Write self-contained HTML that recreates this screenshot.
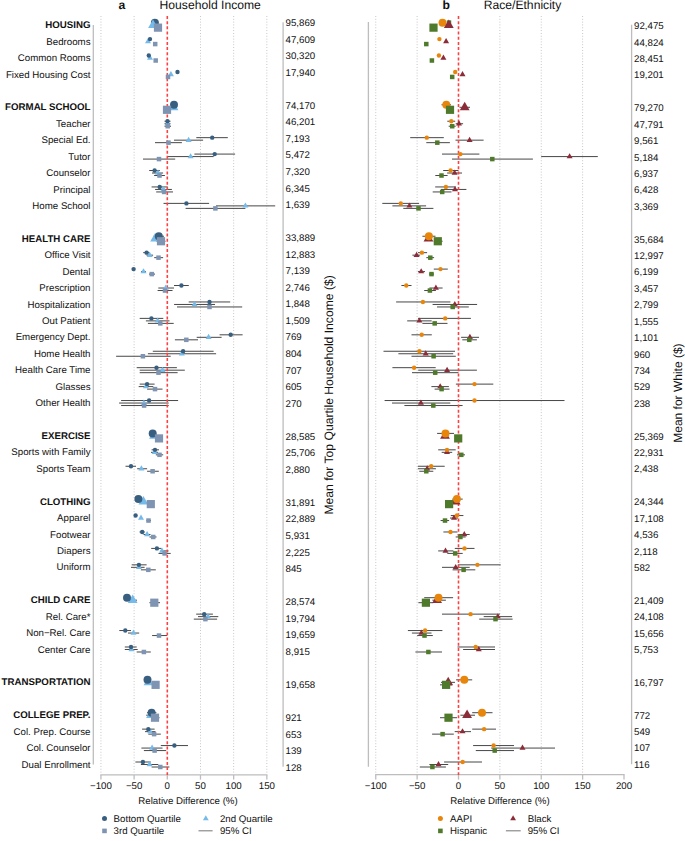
<!DOCTYPE html>
<html><head><meta charset="utf-8"><title>Figure</title>
<style>html,body{margin:0;padding:0;background:#fff;}body{width:685px;height:841px;overflow:hidden;font-family:"Liberation Sans",sans-serif;}svg{display:block;}</style>
</head><body>
<svg width="685" height="841" viewBox="0 0 685 841" text-rendering="geometricPrecision">
<rect width="685" height="841" fill="#fff"/>
<g stroke="#c0c0c0" stroke-width="1" stroke-dasharray="0.9 1.93"><line x1="100.94" y1="16" x2="100.94" y2="773.5"/><line x1="134.12" y1="16" x2="134.12" y2="773.5"/><line x1="200.48" y1="16" x2="200.48" y2="773.5"/><line x1="233.66" y1="16" x2="233.66" y2="773.5"/><line x1="266.84" y1="16" x2="266.84" y2="773.5"/><line x1="375.75" y1="16" x2="375.75" y2="773.5"/><line x1="417.12" y1="16" x2="417.12" y2="773.5"/><line x1="499.88" y1="16" x2="499.88" y2="773.5"/><line x1="541.25" y1="16" x2="541.25" y2="773.5"/><line x1="582.62" y1="16" x2="582.62" y2="773.5"/></g>
<g stroke="#bdbdbd" stroke-width="1.3" fill="none">
<line x1="93.3" y1="25" x2="93.3" y2="764.4"/>
<line x1="283.1" y1="22.3" x2="283.1" y2="766.7"/>
<line x1="368.4" y1="22.1" x2="368.4" y2="766.8"/>
<line x1="631.6" y1="24.8" x2="631.6" y2="764.3"/>
<line x1="100.29" y1="774.9" x2="267.49" y2="774.9"/>
<line x1="375.1" y1="774.7" x2="624.65" y2="774.7"/>
<line x1="100.94" y1="774.9" x2="100.94" y2="779.6"/>
<line x1="134.12" y1="774.9" x2="134.12" y2="779.6"/>
<line x1="167.3" y1="774.9" x2="167.3" y2="779.6"/>
<line x1="200.48" y1="774.9" x2="200.48" y2="779.6"/>
<line x1="233.66" y1="774.9" x2="233.66" y2="779.6"/>
<line x1="266.84" y1="774.9" x2="266.84" y2="779.6"/>
<line x1="375.75" y1="774.7" x2="375.75" y2="779.6"/>
<line x1="417.12" y1="774.7" x2="417.12" y2="779.6"/>
<line x1="458.5" y1="774.7" x2="458.5" y2="779.6"/>
<line x1="499.88" y1="774.7" x2="499.88" y2="779.6"/>
<line x1="541.25" y1="774.7" x2="541.25" y2="779.6"/>
<line x1="582.62" y1="774.7" x2="582.62" y2="779.6"/>
<line x1="624" y1="774.7" x2="624" y2="779.6"/>
</g>
<g stroke="#474747" stroke-width="1.0"><line x1="164.5" y1="121.23" x2="170.5" y2="121.23"/><line x1="164.5" y1="123.73" x2="170.5" y2="123.73"/><line x1="164.5" y1="126.23" x2="171" y2="126.23"/><line x1="196.3" y1="137.66" x2="227.8" y2="137.66"/><line x1="174" y1="140.16" x2="203.1" y2="140.16"/><line x1="155" y1="142.66" x2="181.9" y2="142.66"/><line x1="194.4" y1="154.09" x2="235.1" y2="154.09"/><line x1="167.6" y1="156.59" x2="213.7" y2="156.59"/><line x1="143" y1="159.09" x2="175.2" y2="159.09"/><line x1="149.2" y1="170.52" x2="159.8" y2="170.52"/><line x1="152" y1="173.02" x2="163.1" y2="173.02"/><line x1="154.1" y1="175.52" x2="164.9" y2="175.52"/><line x1="151.6" y1="186.95" x2="167.8" y2="186.95"/><line x1="155.1" y1="189.45" x2="171.9" y2="189.45"/><line x1="156.2" y1="191.95" x2="173" y2="191.95"/><line x1="163.5" y1="203.38" x2="209.1" y2="203.38"/><line x1="216" y1="205.88" x2="275.2" y2="205.88"/><line x1="185.6" y1="208.38" x2="245.4" y2="208.38"/><line x1="153.5" y1="236.24" x2="164" y2="236.24"/><line x1="152" y1="238.74" x2="158" y2="238.74"/><line x1="156.5" y1="241.24" x2="165.5" y2="241.24"/><line x1="143.2" y1="252.67" x2="149.5" y2="252.67"/><line x1="146.5" y1="255.17" x2="153.1" y2="255.17"/><line x1="154.2" y1="257.67" x2="163.1" y2="257.67"/><line x1="141" y1="271.6" x2="146" y2="271.6"/><line x1="149" y1="274.1" x2="155" y2="274.1"/><line x1="174" y1="285.53" x2="188.8" y2="285.53"/><line x1="158.3" y1="288.03" x2="174" y2="288.03"/><line x1="157.6" y1="290.53" x2="172.5" y2="290.53"/><line x1="188.7" y1="301.96" x2="230.2" y2="301.96"/><line x1="174.1" y1="304.46" x2="215" y2="304.46"/><line x1="177" y1="306.96" x2="242.2" y2="306.96"/><line x1="139.7" y1="318.39" x2="163.3" y2="318.39"/><line x1="145.9" y1="320.89" x2="169.5" y2="320.89"/><line x1="147.9" y1="323.39" x2="173.7" y2="323.39"/><line x1="219.6" y1="334.82" x2="242.6" y2="334.82"/><line x1="196.7" y1="337.32" x2="221.6" y2="337.32"/><line x1="174.9" y1="339.82" x2="198" y2="339.82"/><line x1="152.8" y1="351.25" x2="213.6" y2="351.25"/><line x1="147.9" y1="353.75" x2="216.1" y2="353.75"/><line x1="116.1" y1="356.25" x2="170.7" y2="356.25"/><line x1="136.7" y1="367.68" x2="176.9" y2="367.68"/><line x1="139.7" y1="370.18" x2="184.8" y2="370.18"/><line x1="139.7" y1="372.68" x2="177.6" y2="372.68"/><line x1="139.7" y1="384.11" x2="154.6" y2="384.11"/><line x1="138.7" y1="386.61" x2="153.3" y2="386.61"/><line x1="147.1" y1="389.11" x2="162.5" y2="389.11"/><line x1="121.1" y1="400.54" x2="178.1" y2="400.54"/><line x1="119.1" y1="403.04" x2="168.7" y2="403.04"/><line x1="121.1" y1="405.54" x2="168.7" y2="405.54"/><line x1="151.6" y1="449.83" x2="159" y2="449.83"/><line x1="151" y1="452.33" x2="158" y2="452.33"/><line x1="155.8" y1="454.83" x2="163.2" y2="454.83"/><line x1="125.5" y1="466.26" x2="136" y2="466.26"/><line x1="137.2" y1="468.76" x2="147.1" y2="468.76"/><line x1="147.1" y1="471.26" x2="158.8" y2="471.26"/><line x1="146.5" y1="520.55" x2="151" y2="520.55"/><line x1="139.5" y1="531.98" x2="144.8" y2="531.98"/><line x1="143.5" y1="534.48" x2="150.5" y2="534.48"/><line x1="149.5" y1="536.98" x2="156.5" y2="536.98"/><line x1="151.2" y1="548.41" x2="161.5" y2="548.41"/><line x1="160.5" y1="550.91" x2="168.5" y2="550.91"/><line x1="158.5" y1="553.41" x2="170.7" y2="553.41"/><line x1="131.7" y1="564.84" x2="146.6" y2="564.84"/><line x1="131" y1="567.34" x2="144.6" y2="567.34"/><line x1="140.9" y1="569.84" x2="155.8" y2="569.84"/><line x1="129" y1="600.2" x2="137" y2="600.2"/><line x1="149.4" y1="602.7" x2="160" y2="602.7"/><line x1="196.2" y1="614.13" x2="212.9" y2="614.13"/><line x1="198" y1="616.63" x2="218.3" y2="616.63"/><line x1="193.8" y1="619.13" x2="217.1" y2="619.13"/><line x1="119.3" y1="630.56" x2="131" y2="630.56"/><line x1="128" y1="633.06" x2="139.2" y2="633.06"/><line x1="152.1" y1="635.56" x2="167" y2="635.56"/><line x1="124.8" y1="646.99" x2="136.7" y2="646.99"/><line x1="124.8" y1="649.49" x2="137.7" y2="649.49"/><line x1="136.7" y1="651.99" x2="150.8" y2="651.99"/><line x1="147" y1="712.71" x2="156.4" y2="712.71"/><line x1="146.2" y1="715.21" x2="155.5" y2="715.21"/><line x1="152" y1="717.71" x2="159.5" y2="717.71"/><line x1="142.1" y1="729.14" x2="154.6" y2="729.14"/><line x1="145" y1="731.64" x2="155.5" y2="731.64"/><line x1="148.3" y1="734.14" x2="160.8" y2="734.14"/><line x1="160.8" y1="745.57" x2="188" y2="745.57"/><line x1="141.4" y1="748.07" x2="162.5" y2="748.07"/><line x1="143.9" y1="750.57" x2="166.2" y2="750.57"/><line x1="135.4" y1="762" x2="150.8" y2="762"/><line x1="140.9" y1="764.5" x2="158.3" y2="764.5"/><line x1="151.6" y1="767" x2="169.4" y2="767"/></g>
<g stroke="#474747" stroke-width="1.0"><line x1="441.5" y1="104.8" x2="451" y2="104.8"/><line x1="459.5" y1="107.3" x2="470" y2="107.3"/><line x1="447.3" y1="121.23" x2="455.2" y2="121.23"/><line x1="455.7" y1="123.73" x2="463.1" y2="123.73"/><line x1="448.7" y1="126.23" x2="455.7" y2="126.23"/><line x1="410.2" y1="137.66" x2="443.8" y2="137.66"/><line x1="455.5" y1="140.16" x2="483.6" y2="140.16"/><line x1="426.3" y1="142.66" x2="449.9" y2="142.66"/><line x1="442" y1="154.09" x2="479.4" y2="154.09"/><line x1="541.2" y1="156.59" x2="597.8" y2="156.59"/><line x1="452" y1="159.09" x2="532.9" y2="159.09"/><line x1="443.2" y1="170.52" x2="458.5" y2="170.52"/><line x1="447.1" y1="173.02" x2="462" y2="173.02"/><line x1="435.3" y1="175.52" x2="447.6" y2="175.52"/><line x1="435.2" y1="186.95" x2="455.8" y2="186.95"/><line x1="441" y1="189.45" x2="466.4" y2="189.45"/><line x1="432.7" y1="191.95" x2="451.5" y2="191.95"/><line x1="382.3" y1="203.38" x2="419.1" y2="203.38"/><line x1="392.4" y1="205.88" x2="426.1" y2="205.88"/><line x1="403.3" y1="208.38" x2="433.4" y2="208.38"/><line x1="422.4" y1="236.24" x2="435.5" y2="236.24"/><line x1="433.8" y1="241.24" x2="442.6" y2="241.24"/><line x1="418" y1="252.67" x2="427.1" y2="252.67"/><line x1="412.4" y1="255.17" x2="420.1" y2="255.17"/><line x1="426.3" y1="257.67" x2="434.1" y2="257.67"/><line x1="433.8" y1="269.1" x2="447.8" y2="269.1"/><line x1="418" y1="271.6" x2="425" y2="271.6"/><line x1="429" y1="274.1" x2="434" y2="274.1"/><line x1="401.4" y1="285.53" x2="411.5" y2="285.53"/><line x1="429.4" y1="288.03" x2="442.6" y2="288.03"/><line x1="424.2" y1="290.53" x2="435.9" y2="290.53"/><line x1="396.1" y1="301.96" x2="450.4" y2="301.96"/><line x1="432.6" y1="304.46" x2="477.1" y2="304.46"/><line x1="437" y1="306.96" x2="468.8" y2="306.96"/><line x1="418" y1="318.39" x2="470.9" y2="318.39"/><line x1="407.2" y1="320.89" x2="431.7" y2="320.89"/><line x1="422.4" y1="323.39" x2="447.5" y2="323.39"/><line x1="411.5" y1="334.82" x2="431.8" y2="334.82"/><line x1="461.1" y1="337.32" x2="479" y2="337.32"/><line x1="462.3" y1="339.82" x2="476.9" y2="339.82"/><line x1="383.5" y1="351.25" x2="455" y2="351.25"/><line x1="398.4" y1="353.75" x2="453.2" y2="353.75"/><line x1="411.5" y1="356.25" x2="455.8" y2="356.25"/><line x1="392.4" y1="367.68" x2="435.7" y2="367.68"/><line x1="418.2" y1="370.18" x2="476.9" y2="370.18"/><line x1="412" y1="372.68" x2="458.5" y2="372.68"/><line x1="455.9" y1="384.11" x2="493.3" y2="384.11"/><line x1="431.4" y1="386.61" x2="448.9" y2="386.61"/><line x1="434.6" y1="389.11" x2="449.5" y2="389.11"/><line x1="384.6" y1="400.54" x2="564.5" y2="400.54"/><line x1="392" y1="403.04" x2="450.3" y2="403.04"/><line x1="404.4" y1="405.54" x2="462.6" y2="405.54"/><line x1="437.1" y1="433.4" x2="454" y2="433.4"/><line x1="438.2" y1="449.83" x2="455.7" y2="449.83"/><line x1="441.7" y1="452.33" x2="452.2" y2="452.33"/><line x1="457" y1="454.83" x2="465" y2="454.83"/><line x1="417.9" y1="466.26" x2="444.7" y2="466.26"/><line x1="417.9" y1="468.76" x2="435.9" y2="468.76"/><line x1="419.3" y1="471.26" x2="433.3" y2="471.26"/><line x1="452.2" y1="499.12" x2="462.7" y2="499.12"/><line x1="450.8" y1="515.55" x2="463.4" y2="515.55"/><line x1="450" y1="518.05" x2="458" y2="518.05"/><line x1="440.6" y1="520.55" x2="449.1" y2="520.55"/><line x1="443.4" y1="531.98" x2="457.5" y2="531.98"/><line x1="457.8" y1="534.48" x2="469.7" y2="534.48"/><line x1="455.7" y1="536.98" x2="465.7" y2="536.98"/><line x1="454.8" y1="548.41" x2="474.5" y2="548.41"/><line x1="438.2" y1="550.91" x2="453.4" y2="550.91"/><line x1="447.3" y1="553.41" x2="462.7" y2="553.41"/><line x1="457.8" y1="564.84" x2="500.7" y2="564.84"/><line x1="442" y1="567.34" x2="469.7" y2="567.34"/><line x1="452.6" y1="569.84" x2="475.3" y2="569.84"/><line x1="424.2" y1="597.7" x2="453.1" y2="597.7"/><line x1="432.4" y1="600.2" x2="445.9" y2="600.2"/><line x1="418.4" y1="602.7" x2="433.3" y2="602.7"/><line x1="442" y1="614.13" x2="499.9" y2="614.13"/><line x1="483.7" y1="616.63" x2="512.1" y2="616.63"/><line x1="479.2" y1="619.13" x2="512.6" y2="619.13"/><line x1="407.9" y1="630.56" x2="442.4" y2="630.56"/><line x1="411.9" y1="633.06" x2="431.5" y2="633.06"/><line x1="417.2" y1="635.56" x2="432.8" y2="635.56"/><line x1="457.5" y1="646.99" x2="495" y2="646.99"/><line x1="463.1" y1="649.49" x2="495" y2="649.49"/><line x1="415.4" y1="651.99" x2="442" y2="651.99"/><line x1="456.1" y1="679.85" x2="472.2" y2="679.85"/><line x1="441" y1="682.35" x2="455" y2="682.35"/><line x1="440" y1="684.85" x2="452" y2="684.85"/><line x1="472.2" y1="712.71" x2="492.5" y2="712.71"/><line x1="460.4" y1="715.21" x2="475" y2="715.21"/><line x1="440" y1="717.71" x2="457" y2="717.71"/><line x1="472.2" y1="729.14" x2="496" y2="729.14"/><line x1="454.7" y1="731.64" x2="471" y2="731.64"/><line x1="432.1" y1="734.14" x2="453.8" y2="734.14"/><line x1="473.1" y1="745.57" x2="514" y2="745.57"/><line x1="491.2" y1="748.07" x2="555" y2="748.07"/><line x1="475.8" y1="750.57" x2="514" y2="750.57"/><line x1="444.1" y1="762" x2="482" y2="762"/><line x1="429.4" y1="764.5" x2="448.2" y2="764.5"/><line x1="419.8" y1="767" x2="445.9" y2="767"/></g>
<g stroke="#ff4040" stroke-width="1.6" stroke-dasharray="3.0 2.18"><line x1="167.3" y1="16" x2="167.3" y2="775"/><line x1="458.5" y1="16" x2="458.5" y2="775"/></g>
<g fill="#395f80"><circle cx="154.9" cy="22.65" r="4"/></g>

<g fill="#76bae9"><polygon points="153,19.49 148.1,27.98 157.9,27.98"/></g>
<g fill="#7e94b2"><rect x="153.9" y="23.55" width="8.2" height="8.2"/></g>
<g fill="#76bae9"><polygon points="148,38.12 145,43.31 151,43.31"/><polygon points="150,54.55 147,59.74 153,59.74"/><polygon points="170.9,70.98 167.9,76.17 173.9,76.17"/><polygon points="173.5,101.64 168.6,110.13 178.4,110.13"/><polygon points="167.6,120.27 164.6,125.46 170.6,125.46"/><polygon points="188.6,136.7 185.6,141.89 191.6,141.89"/><polygon points="190.6,153.13 187.6,158.32 193.6,158.32"/><polygon points="158,169.56 155,174.75 161,174.75"/><polygon points="163.4,185.99 160.4,191.18 166.4,191.18"/><polygon points="245.4,202.42 242.4,207.61 248.4,207.61"/><polygon points="155.1,233.08 150.2,241.57 160,241.57"/><polygon points="149.7,251.71 146.7,256.9 152.7,256.9"/><polygon points="143.5,268.14 140.5,273.33 146.5,273.33"/><polygon points="165.8,284.57 162.8,289.76 168.8,289.76"/><polygon points="194.5,301 191.5,306.19 197.5,306.19"/><polygon points="157.6,317.43 154.6,322.62 160.6,322.62"/><polygon points="208.6,333.86 205.6,339.05 211.6,339.05"/><polygon points="181.8,350.29 178.8,355.48 184.8,355.48"/><polygon points="162.5,366.72 159.5,371.91 165.5,371.91"/><polygon points="145.9,383.15 142.9,388.34 148.9,388.34"/><polygon points="143.9,399.58 140.9,404.77 146.9,404.77"/><polygon points="154,430.24 149.1,438.73 158.9,438.73"/><polygon points="154.6,448.87 151.6,454.06 157.6,454.06"/><polygon points="141.4,465.3 138.4,470.49 144.4,470.49"/><polygon points="143.4,495.96 138.5,504.45 148.3,504.45"/><polygon points="141,514.59 138,519.78 144,519.78"/><polygon points="147.1,531.02 144.1,536.21 150.1,536.21"/><polygon points="162,547.45 159,552.64 165,552.64"/><polygon points="138.9,563.88 135.9,569.07 141.9,569.07"/><polygon points="132.7,594.54 127.8,603.03 137.6,603.03"/><polygon points="207.9,613.17 204.9,618.36 210.9,618.36"/><polygon points="133.5,629.6 130.5,634.79 136.5,634.79"/><polygon points="131.5,646.03 128.5,651.22 134.5,651.22"/><polygon points="148.5,676.69 143.6,685.18 153.4,685.18"/><polygon points="151,709.55 146.1,718.04 155.9,718.04"/><polygon points="150.1,728.18 147.1,733.37 153.1,733.37"/><polygon points="152.1,744.61 149.1,749.8 155.1,749.8"/><polygon points="149.6,761.04 146.6,766.23 152.6,766.23"/></g>
<g fill="#395f80"><circle cx="150" cy="39.08" r="2.2"/><circle cx="148.8" cy="55.51" r="2.2"/><circle cx="177.5" cy="71.94" r="2.2"/><circle cx="174" cy="104.8" r="4"/><circle cx="167.5" cy="121.23" r="2.2"/><circle cx="212.2" cy="137.66" r="2.2"/><circle cx="214.7" cy="154.09" r="2.2"/><circle cx="154.6" cy="170.52" r="2.2"/><circle cx="159.7" cy="186.95" r="2.2"/><circle cx="186.4" cy="203.38" r="2.2"/><circle cx="158.8" cy="236.24" r="4"/><circle cx="146.6" cy="252.67" r="2.2"/><circle cx="133.6" cy="269.1" r="2.2"/><circle cx="181.4" cy="285.53" r="2.2"/><circle cx="209.5" cy="301.96" r="2.2"/><circle cx="151.4" cy="318.39" r="2.2"/><circle cx="230.7" cy="334.82" r="2.2"/><circle cx="183.1" cy="351.25" r="2.2"/><circle cx="156.5" cy="367.68" r="2.2"/><circle cx="147.1" cy="384.11" r="2.2"/><circle cx="149.1" cy="400.54" r="2.2"/><circle cx="152.7" cy="433.4" r="4"/><circle cx="155" cy="449.83" r="2.2"/><circle cx="131" cy="466.26" r="2.2"/><circle cx="138.4" cy="499.12" r="4"/><circle cx="135.6" cy="515.55" r="2.2"/><circle cx="142.2" cy="531.98" r="2.2"/><circle cx="156.9" cy="548.41" r="2.2"/><circle cx="138.9" cy="564.84" r="2.2"/><circle cx="127" cy="597.7" r="4"/><circle cx="204.2" cy="614.13" r="2.2"/><circle cx="125.3" cy="630.56" r="2.2"/><circle cx="131" cy="646.99" r="2.2"/><circle cx="147.5" cy="679.85" r="4"/><circle cx="151.6" cy="712.71" r="4"/><circle cx="148.3" cy="729.14" r="2.2"/><circle cx="174.4" cy="745.57" r="2.2"/><circle cx="142.9" cy="762" r="2.2"/></g>
<g fill="#7e94b2"><rect x="152.95" y="41.83" width="4.5" height="4.5"/><rect x="153.45" y="58.26" width="4.5" height="4.5"/><rect x="165.75" y="74.69" width="4.5" height="4.5"/><rect x="162.9" y="105.7" width="8.2" height="8.2"/><rect x="165.45" y="123.98" width="4.5" height="4.5"/><rect x="166.25" y="140.41" width="4.5" height="4.5"/><rect x="156.75" y="156.84" width="4.5" height="4.5"/><rect x="157.25" y="173.27" width="4.5" height="4.5"/><rect x="161.85" y="189.7" width="4.5" height="4.5"/><rect x="213.15" y="206.13" width="4.5" height="4.5"/><rect x="156.9" y="237.14" width="8.2" height="8.2"/><rect x="156.25" y="255.42" width="4.5" height="4.5"/><rect x="149.55" y="271.85" width="4.5" height="4.5"/><rect x="162.75" y="288.28" width="4.5" height="4.5"/><rect x="207.25" y="304.71" width="4.5" height="4.5"/><rect x="158.05" y="321.14" width="4.5" height="4.5"/><rect x="184.05" y="337.57" width="4.5" height="4.5"/><rect x="140.65" y="354" width="4.5" height="4.5"/><rect x="156.25" y="370.43" width="4.5" height="4.5"/><rect x="152.75" y="386.86" width="4.5" height="4.5"/><rect x="141.85" y="403.29" width="4.5" height="4.5"/><rect x="154.9" y="434.3" width="8.2" height="8.2"/><rect x="157.25" y="452.58" width="4.5" height="4.5"/><rect x="150.35" y="469.01" width="4.5" height="4.5"/><rect x="146.7" y="500.02" width="8.2" height="8.2"/><rect x="146.25" y="518.3" width="4.5" height="4.5"/><rect x="150.95" y="534.73" width="4.5" height="4.5"/><rect x="162.35" y="551.16" width="4.5" height="4.5"/><rect x="146.05" y="567.59" width="4.5" height="4.5"/><rect x="150.2" y="598.6" width="8.2" height="8.2"/><rect x="203.15" y="616.88" width="4.5" height="4.5"/><rect x="156.75" y="633.31" width="4.5" height="4.5"/><rect x="141.65" y="649.74" width="4.5" height="4.5"/><rect x="151.5" y="680.75" width="8.2" height="8.2"/><rect x="150.9" y="713.61" width="8.2" height="8.2"/><rect x="151.85" y="731.89" width="4.5" height="4.5"/><rect x="152.35" y="748.32" width="4.5" height="4.5"/><rect x="158.05" y="764.75" width="4.5" height="4.5"/></g>
<g fill="#e8860b"><circle cx="442.5" cy="22.65" r="4"/></g>
<rect x="446.8" y="20.35" width="4.4" height="4.4" fill="#4f7a2b"/>
<g fill="#8b2c39"><polygon points="448.8,19.49 443.9,27.98 453.7,27.98"/></g>
<g fill="#4f7a2b"><rect x="429.4" y="23.55" width="8.2" height="8.2"/></g>
<g fill="#8b2c39"><polygon points="446.1,38.12 443.1,43.31 449.1,43.31"/><polygon points="443.4,54.55 440.4,59.74 446.4,59.74"/><polygon points="462.5,70.98 459.5,76.17 465.5,76.17"/><polygon points="464.7,101.64 459.8,110.13 469.6,110.13"/><polygon points="459,120.27 456,125.46 462,125.46"/><polygon points="469.6,136.7 466.6,141.89 472.6,141.89"/><polygon points="569.6,153.13 566.6,158.32 572.6,158.32"/><polygon points="454.6,169.56 451.6,174.75 457.6,174.75"/><polygon points="455,185.99 452,191.18 458,191.18"/><polygon points="409.4,202.42 406.4,207.61 412.4,207.61"/><polygon points="428.5,233.08 423.6,241.57 433.4,241.57"/><polygon points="416.6,251.71 413.6,256.9 419.6,256.9"/><polygon points="421.2,268.14 418.2,273.33 424.2,273.33"/><polygon points="435.9,284.57 432.9,289.76 438.9,289.76"/><polygon points="454.8,301 451.8,306.19 457.8,306.19"/><polygon points="419.4,317.43 416.4,322.62 422.4,322.62"/><polygon points="469.9,333.86 466.9,339.05 472.9,339.05"/><polygon points="425.7,350.29 422.7,355.48 428.7,355.48"/><polygon points="447.1,366.72 444.1,371.91 450.1,371.91"/><polygon points="440.2,383.15 437.2,388.34 443.2,388.34"/><polygon points="420.9,399.58 417.9,404.77 423.9,404.77"/><polygon points="445,430.24 440.1,438.73 449.9,438.73"/><polygon points="447,448.87 444,454.06 450,454.06"/><polygon points="427.2,465.3 424.2,470.49 430.2,470.49"/><polygon points="455.7,495.96 450.8,504.45 460.6,504.45"/><polygon points="454,514.59 451,519.78 457,519.78"/><polygon points="464.3,531.02 461.3,536.21 467.3,536.21"/><polygon points="445.5,547.45 442.5,552.64 448.5,552.64"/><polygon points="455.7,563.88 452.7,569.07 458.7,569.07"/><polygon points="437.1,594.54 432.2,603.03 442,603.03"/><polygon points="497.8,613.17 494.8,618.36 500.8,618.36"/><polygon points="421.4,629.6 418.4,634.79 424.4,634.79"/><polygon points="478.8,646.03 475.8,651.22 481.8,651.22"/><polygon points="448.2,676.69 443.3,685.18 453.1,685.18"/><polygon points="467.1,709.55 462.2,718.04 472,718.04"/><polygon points="462.5,728.18 459.5,733.37 465.5,733.37"/><polygon points="522.5,744.61 519.5,749.8 525.5,749.8"/><polygon points="438.5,761.04 435.5,766.23 441.5,766.23"/></g>
<g fill="#e8860b"><circle cx="439.4" cy="39.08" r="2.2"/><circle cx="438.9" cy="55.51" r="2.2"/><circle cx="455.2" cy="71.94" r="2.2"/><circle cx="446.3" cy="104.8" r="4"/><circle cx="451.3" cy="121.23" r="2.2"/><circle cx="426.8" cy="137.66" r="2.2"/><circle cx="460.4" cy="154.09" r="2.2"/><circle cx="450.6" cy="170.52" r="2.2"/><circle cx="445.9" cy="186.95" r="2.2"/><circle cx="400.8" cy="203.38" r="2.2"/><circle cx="428.9" cy="236.24" r="4"/><circle cx="421.9" cy="252.67" r="2.2"/><circle cx="440.5" cy="269.1" r="2.2"/><circle cx="406.3" cy="285.53" r="2.2"/><circle cx="422.9" cy="301.96" r="2.2"/><circle cx="445.2" cy="318.39" r="2.2"/><circle cx="421.7" cy="334.82" r="2.2"/><circle cx="419.4" cy="351.25" r="2.2"/><circle cx="414.1" cy="367.68" r="2.2"/><circle cx="474.5" cy="384.11" r="2.2"/><circle cx="474.5" cy="400.54" r="2.2"/><circle cx="445.5" cy="433.4" r="4"/><circle cx="447" cy="449.83" r="2.2"/><circle cx="431.2" cy="466.26" r="2.2"/><circle cx="456.9" cy="499.12" r="4"/><circle cx="456.9" cy="515.55" r="2.2"/><circle cx="450.5" cy="531.98" r="2.2"/><circle cx="464.5" cy="548.41" r="2.2"/><circle cx="477.4" cy="564.84" r="2.2"/><circle cx="438.5" cy="597.7" r="4"/><circle cx="470.6" cy="614.13" r="2.2"/><circle cx="425.1" cy="630.56" r="2.2"/><circle cx="475.7" cy="646.99" r="2.2"/><circle cx="464.3" cy="679.85" r="4"/><circle cx="482" cy="712.71" r="4"/><circle cx="484.1" cy="729.14" r="2.2"/><circle cx="493.6" cy="745.57" r="2.2"/><circle cx="462.7" cy="762" r="2.2"/></g>
<g fill="#4f7a2b"><rect x="424.05" y="41.83" width="4.5" height="4.5"/><rect x="429.65" y="58.26" width="4.5" height="4.5"/><rect x="449.95" y="74.69" width="4.5" height="4.5"/><rect x="445.9" y="105.7" width="8.2" height="8.2"/><rect x="449.95" y="123.98" width="4.5" height="4.5"/><rect x="435.05" y="140.41" width="4.5" height="4.5"/><rect x="490.05" y="156.84" width="4.5" height="4.5"/><rect x="439.25" y="173.27" width="4.5" height="4.5"/><rect x="439.95" y="189.7" width="4.5" height="4.5"/><rect x="416.25" y="206.13" width="4.5" height="4.5"/><rect x="433.7" y="237.14" width="8.2" height="8.2"/><rect x="428.05" y="255.42" width="4.5" height="4.5"/><rect x="429.25" y="271.85" width="4.5" height="4.5"/><rect x="427.65" y="288.28" width="4.5" height="4.5"/><rect x="450.45" y="304.71" width="4.5" height="4.5"/><rect x="432.45" y="321.14" width="4.5" height="4.5"/><rect x="467.05" y="337.57" width="4.5" height="4.5"/><rect x="431.35" y="354" width="4.5" height="4.5"/><rect x="432.95" y="370.43" width="4.5" height="4.5"/><rect x="439.35" y="386.86" width="4.5" height="4.5"/><rect x="431.05" y="403.29" width="4.5" height="4.5"/><rect x="454.1" y="434.3" width="8.2" height="8.2"/><rect x="459.05" y="452.58" width="4.5" height="4.5"/><rect x="424.05" y="469.01" width="4.5" height="4.5"/><rect x="445" y="500.02" width="8.2" height="8.2"/><rect x="442.75" y="518.3" width="4.5" height="4.5"/><rect x="458.15" y="534.73" width="4.5" height="4.5"/><rect x="452.95" y="551.16" width="4.5" height="4.5"/><rect x="461.35" y="567.59" width="4.5" height="4.5"/><rect x="421.8" y="598.6" width="8.2" height="8.2"/><rect x="493.25" y="616.88" width="4.5" height="4.5"/><rect x="422.25" y="633.31" width="4.5" height="4.5"/><rect x="426.15" y="649.74" width="4.5" height="4.5"/><rect x="442" y="680.75" width="8.2" height="8.2"/><rect x="444.4" y="713.61" width="8.2" height="8.2"/><rect x="440.35" y="731.89" width="4.5" height="4.5"/><rect x="492.45" y="748.32" width="4.5" height="4.5"/><rect x="430.15" y="764.75" width="4.5" height="4.5"/></g>
<g font-family='"Liberation Sans", sans-serif' font-size="9.7" fill="#111">
<text x="90.5" y="28.25" text-anchor="end" font-weight="bold">HOUSING</text>
<text x="90.5" y="44.68" text-anchor="end">Bedrooms</text>
<text x="90.5" y="61.11" text-anchor="end">Common Rooms</text>
<text x="90.5" y="77.54" text-anchor="end">Fixed Housing Cost</text>
<text x="90.5" y="110.4" text-anchor="end" font-weight="bold">FORMAL SCHOOL</text>
<text x="90.5" y="126.83" text-anchor="end">Teacher</text>
<text x="90.5" y="143.26" text-anchor="end">Special Ed.</text>
<text x="90.5" y="159.69" text-anchor="end">Tutor</text>
<text x="90.5" y="176.12" text-anchor="end">Counselor</text>
<text x="90.5" y="192.55" text-anchor="end">Principal</text>
<text x="90.5" y="208.98" text-anchor="end">Home School</text>
<text x="90.5" y="241.84" text-anchor="end" font-weight="bold">HEALTH CARE</text>
<text x="90.5" y="258.27" text-anchor="end">Office Visit</text>
<text x="90.5" y="274.7" text-anchor="end">Dental</text>
<text x="90.5" y="291.13" text-anchor="end">Prescription</text>
<text x="90.5" y="307.56" text-anchor="end">Hospitalization</text>
<text x="90.5" y="323.99" text-anchor="end">Out Patient</text>
<text x="90.5" y="340.42" text-anchor="end">Emergency Dept.</text>
<text x="90.5" y="356.85" text-anchor="end">Home Health</text>
<text x="90.5" y="373.28" text-anchor="end">Health Care Time</text>
<text x="90.5" y="389.71" text-anchor="end">Glasses</text>
<text x="90.5" y="406.14" text-anchor="end">Other Health</text>
<text x="90.5" y="439" text-anchor="end" font-weight="bold">EXERCISE</text>
<text x="90.5" y="455.43" text-anchor="end">Sports with Family</text>
<text x="90.5" y="471.86" text-anchor="end">Sports Team</text>
<text x="90.5" y="504.72" text-anchor="end" font-weight="bold">CLOTHING</text>
<text x="90.5" y="521.15" text-anchor="end">Apparel</text>
<text x="90.5" y="537.58" text-anchor="end">Footwear</text>
<text x="90.5" y="554.01" text-anchor="end">Diapers</text>
<text x="90.5" y="570.44" text-anchor="end">Uniform</text>
<text x="90.5" y="603.3" text-anchor="end" font-weight="bold">CHILD CARE</text>
<text x="90.5" y="619.73" text-anchor="end">Rel. Care*</text>
<text x="90.5" y="636.16" text-anchor="end">Non−Rel. Care</text>
<text x="90.5" y="652.59" text-anchor="end">Center Care</text>
<text x="90.5" y="685.45" text-anchor="end" font-weight="bold">TRANSPORTATION</text>
<text x="90.5" y="718.31" text-anchor="end" font-weight="bold">COLLEGE PREP.</text>
<text x="90.5" y="734.74" text-anchor="end">Col. Prep. Course</text>
<text x="90.5" y="751.17" text-anchor="end">Col. Counselor</text>
<text x="90.5" y="767.6" text-anchor="end">Dual Enrollment</text>
<text x="285.6" y="26.1">95,869</text>
<text x="285.6" y="42.65">47,609</text>
<text x="285.6" y="59.19">30,320</text>
<text x="285.6" y="75.74">17,940</text>
<text x="285.6" y="108.83">74,170</text>
<text x="285.6" y="125.37">46,201</text>
<text x="285.6" y="141.92">7,193</text>
<text x="285.6" y="158.46">5,472</text>
<text x="285.6" y="175.01">7,320</text>
<text x="285.6" y="191.55">6,345</text>
<text x="285.6" y="208.09">1,639</text>
<text x="285.6" y="241.19">33,889</text>
<text x="285.6" y="257.73">12,883</text>
<text x="285.6" y="274.28">7,139</text>
<text x="285.6" y="290.82">2,746</text>
<text x="285.6" y="307.37">1,848</text>
<text x="285.6" y="323.91">1,509</text>
<text x="285.6" y="340.46">769</text>
<text x="285.6" y="357">804</text>
<text x="285.6" y="373.55">707</text>
<text x="285.6" y="390.09">605</text>
<text x="285.6" y="406.64">270</text>
<text x="285.6" y="439.73">28,585</text>
<text x="285.6" y="456.27">25,706</text>
<text x="285.6" y="472.82">2,880</text>
<text x="285.6" y="505.91">31,891</text>
<text x="285.6" y="522.45">22,889</text>
<text x="285.6" y="539">5,931</text>
<text x="285.6" y="555.54">2,225</text>
<text x="285.6" y="572.09">845</text>
<text x="285.6" y="605.18">28,574</text>
<text x="285.6" y="621.72">19,794</text>
<text x="285.6" y="638.27">19,659</text>
<text x="285.6" y="654.81">8,915</text>
<text x="285.6" y="687.9">19,658</text>
<text x="285.6" y="720.99">921</text>
<text x="285.6" y="737.54">653</text>
<text x="285.6" y="754.08">139</text>
<text x="285.6" y="770.63">128</text>
<text x="634.1" y="29.2">92,475</text>
<text x="634.1" y="45.62">44,824</text>
<text x="634.1" y="62.03">28,451</text>
<text x="634.1" y="78.45">19,201</text>
<text x="634.1" y="111.28">79,270</text>
<text x="634.1" y="127.69">47,791</text>
<text x="634.1" y="144.11">9,561</text>
<text x="634.1" y="160.52">5,184</text>
<text x="634.1" y="176.94">6,937</text>
<text x="634.1" y="193.36">6,428</text>
<text x="634.1" y="209.77">3,369</text>
<text x="634.1" y="242.6">35,684</text>
<text x="634.1" y="259.02">12,997</text>
<text x="634.1" y="275.43">6,199</text>
<text x="634.1" y="291.85">3,457</text>
<text x="634.1" y="308.26">2,799</text>
<text x="634.1" y="324.68">1,555</text>
<text x="634.1" y="341.1">1,101</text>
<text x="634.1" y="357.51">960</text>
<text x="634.1" y="373.93">734</text>
<text x="634.1" y="390.34">529</text>
<text x="634.1" y="406.76">238</text>
<text x="634.1" y="439.59">25,369</text>
<text x="634.1" y="456">22,931</text>
<text x="634.1" y="472.42">2,438</text>
<text x="634.1" y="505.25">24,344</text>
<text x="634.1" y="521.67">17,108</text>
<text x="634.1" y="538.08">4,536</text>
<text x="634.1" y="554.5">2,118</text>
<text x="634.1" y="570.91">582</text>
<text x="634.1" y="603.74">21,409</text>
<text x="634.1" y="620.16">24,108</text>
<text x="634.1" y="636.58">15,656</text>
<text x="634.1" y="652.99">5,753</text>
<text x="634.1" y="685.82">16,797</text>
<text x="634.1" y="718.65">772</text>
<text x="634.1" y="735.07">549</text>
<text x="634.1" y="751.48">107</text>
<text x="634.1" y="767.9">116</text>
<text x="100.94" y="788.6" text-anchor="middle">−100</text>
<text x="134.12" y="788.6" text-anchor="middle">−50</text>
<text x="167.3" y="788.6" text-anchor="middle">0</text>
<text x="200.48" y="788.6" text-anchor="middle">50</text>
<text x="233.66" y="788.6" text-anchor="middle">100</text>
<text x="266.84" y="788.6" text-anchor="middle">150</text>
<text x="375.75" y="788.6" text-anchor="middle">−100</text>
<text x="417.12" y="788.6" text-anchor="middle">−50</text>
<text x="458.5" y="788.6" text-anchor="middle">0</text>
<text x="499.88" y="788.6" text-anchor="middle">50</text>
<text x="541.25" y="788.6" text-anchor="middle">100</text>
<text x="582.62" y="788.6" text-anchor="middle">150</text>
<text x="624" y="788.6" text-anchor="middle">200</text>
<text x="188" y="804" text-anchor="middle">Relative Difference (%)</text>
<text x="500" y="804" text-anchor="middle">Relative Difference (%)</text>
<text x="113.6" y="821.8">Bottom Quartile</text>
<text x="113.6" y="834.3">3rd Quartile</text>
<text x="219.9" y="821.8">2nd Quartile</text>
<text x="219.9" y="834.3">95% CI</text>
<text x="450" y="821.8">AAPI</text>
<text x="450" y="834.3">Hispanic</text>
<text x="527.7" y="821.8">Black</text>
<text x="527.7" y="834.3">95% CI</text>
</g>
<circle cx="104.5" cy="818.4" r="2.5" fill="#395f80"/>
<rect x="102.2" y="828.6" width="4.6" height="4.6" fill="#7e94b2"/>
<g fill="#76bae9"><polygon points="205.8,815.35 202.9,820.37 208.7,820.37"/></g>
<line x1="198.5" y1="830.8" x2="212.6" y2="830.8" stroke="#808080" stroke-width="1.1"/>
<circle cx="440.4" cy="818.4" r="2.5" fill="#e8860b"/>
<rect x="438.1" y="828.6" width="4.6" height="4.6" fill="#4f7a2b"/>
<g fill="#8b2c39"><polygon points="513.1,815.35 510.2,820.37 516,820.37"/></g>
<line x1="505.9" y1="830.8" x2="520.7" y2="830.8" stroke="#808080" stroke-width="1.1"/>
<g font-family='"Liberation Sans", sans-serif' font-size="12.15" fill="#111">
<text x="118.6" y="9.1" font-weight="bold">a</text>
<text x="159.6" y="9.1">Household Income</text>
<text x="442.4" y="9.1" font-weight="bold">b</text>
<text x="483.7" y="9.1">Race/Ethnicity</text>
</g>
<text font-family='"Liberation Sans", sans-serif' font-size="12.15" fill="#111" text-anchor="middle" transform="translate(333.3,394.9) rotate(-90)">Mean for Top Quartile Household Income ($)</text>
<text font-family='"Liberation Sans", sans-serif' font-size="12.0" fill="#111" text-anchor="middle" transform="translate(681.9,393.1) rotate(-90)">Mean for White ($)</text>
</svg>
</body></html>
